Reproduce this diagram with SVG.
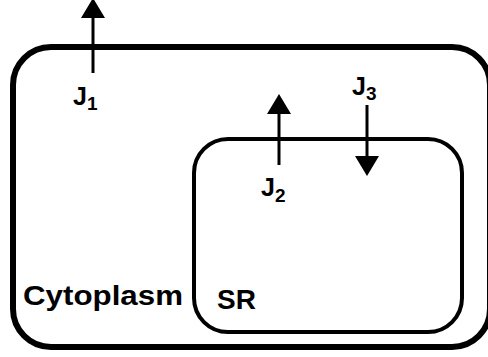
<svg xmlns="http://www.w3.org/2000/svg" width="488" height="357" viewBox="0 0 488 357">
<style>
.box{fill:none;stroke:#000;}
.lbl{font-family:"Liberation Sans",Arial,sans-serif;font-weight:bold;fill:#000;}
.flux{stroke:#000;stroke-width:3;fill:none;}
</style>
<defs>
<marker id="ah" markerUnits="userSpaceOnUse" viewBox="0 0 20 24" markerWidth="20" markerHeight="24" refX="0" refY="12" orient="auto">
<path d="M0,0 L20,12 L0,24 z" fill="#000"/>
</marker>
</defs>
<rect width="488" height="357" fill="#fff"/>
<g id="cytoplasm">
<rect class="box" x="13" y="47" width="477" height="300" rx="38" ry="38" stroke-width="6"/>
<text class="lbl" x="23" y="305" font-size="28" textLength="160" lengthAdjust="spacingAndGlyphs">Cytoplasm</text>
</g>
<g id="sr">
<rect class="box" x="194" y="139" width="268" height="193" rx="34" ry="34" stroke-width="4"/>
<text class="lbl" x="217" y="309" font-size="28">SR</text>
</g>
<g id="connectors">
<line class="flux" x1="93" y1="73" x2="93" y2="18" marker-end="url(#ah)"/>
<line class="flux" x1="279" y1="165" x2="279" y2="114" marker-end="url(#ah)"/>
<line class="flux" x1="367" y1="105" x2="367" y2="156" marker-end="url(#ah)"/>
</g>
<g id="labels">
<text class="lbl" x="73" y="105" font-size="25">J<tspan font-size="19" dy="5">1</tspan></text>
<text class="lbl" x="261" y="196" font-size="25">J<tspan font-size="19" dy="6">2</tspan></text>
<text class="lbl" x="352" y="95" font-size="25">J<tspan font-size="19" dy="5">3</tspan></text>
</g>
</svg>
